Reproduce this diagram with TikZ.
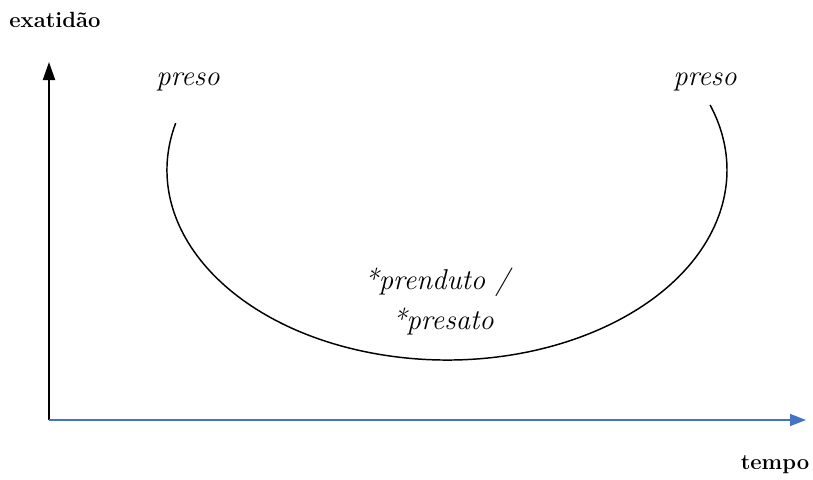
\documentclass[tikz,border=0pt]{standalone}
\usepackage{tikz}
\usetikzlibrary{arrows.meta, positioning, calc}
\definecolor{axisblue}{HTML}{4472C4}

\begin{document}
\begin{tikzpicture}[
      x=0.75pt, y=-0.75pt,
      axlabel/.style={font=\fontsize{16.5}{19}\selectfont\bfseries},
      word/.style={font=\fontsize{21.5}{25}\selectfont\itshape},
      yaxis/.style={-{Triangle[length=13.5pt, width=9pt]}, line width=1.5pt, black},
      xaxis/.style={-{Triangle[length=12pt, width=9pt]}, line width=1.1pt, axisblue},
      curve/.style={line width=1.1pt, black}
    ]
      \useasboundingbox (0,0) rectangle (813,479);
      % axes
      \coordinate (origin) at (49,420);
      \coordinate (ytop) at (49,62);
      \coordinate (xend) at (806,420);
      \draw[yaxis] (origin) -- (ytop);
      \draw[xaxis] (origin) -- (xend);
      \node[axlabel] (exat) at (55,20) {exatidão};
      \node[axlabel] (tempo) at (775,465) {tempo};
      % words
      \node[word] (presoL) at (188,82) {preso};
      \node[word] (presoR) at (705,82) {preso};
      \node[word] (prenduto) at (437,282) {*prenduto /};
      \node[word] (presato) at (443,322) {*presato};
      % U-curve
      \coordinate (ustart) at ($(447,170)+(194.3:280 and 190)$);
      \draw[curve] (ustart) arc[start angle=194.3, end angle=-20, x radius=280, y radius=190];
    \end{tikzpicture}
\end{document}
